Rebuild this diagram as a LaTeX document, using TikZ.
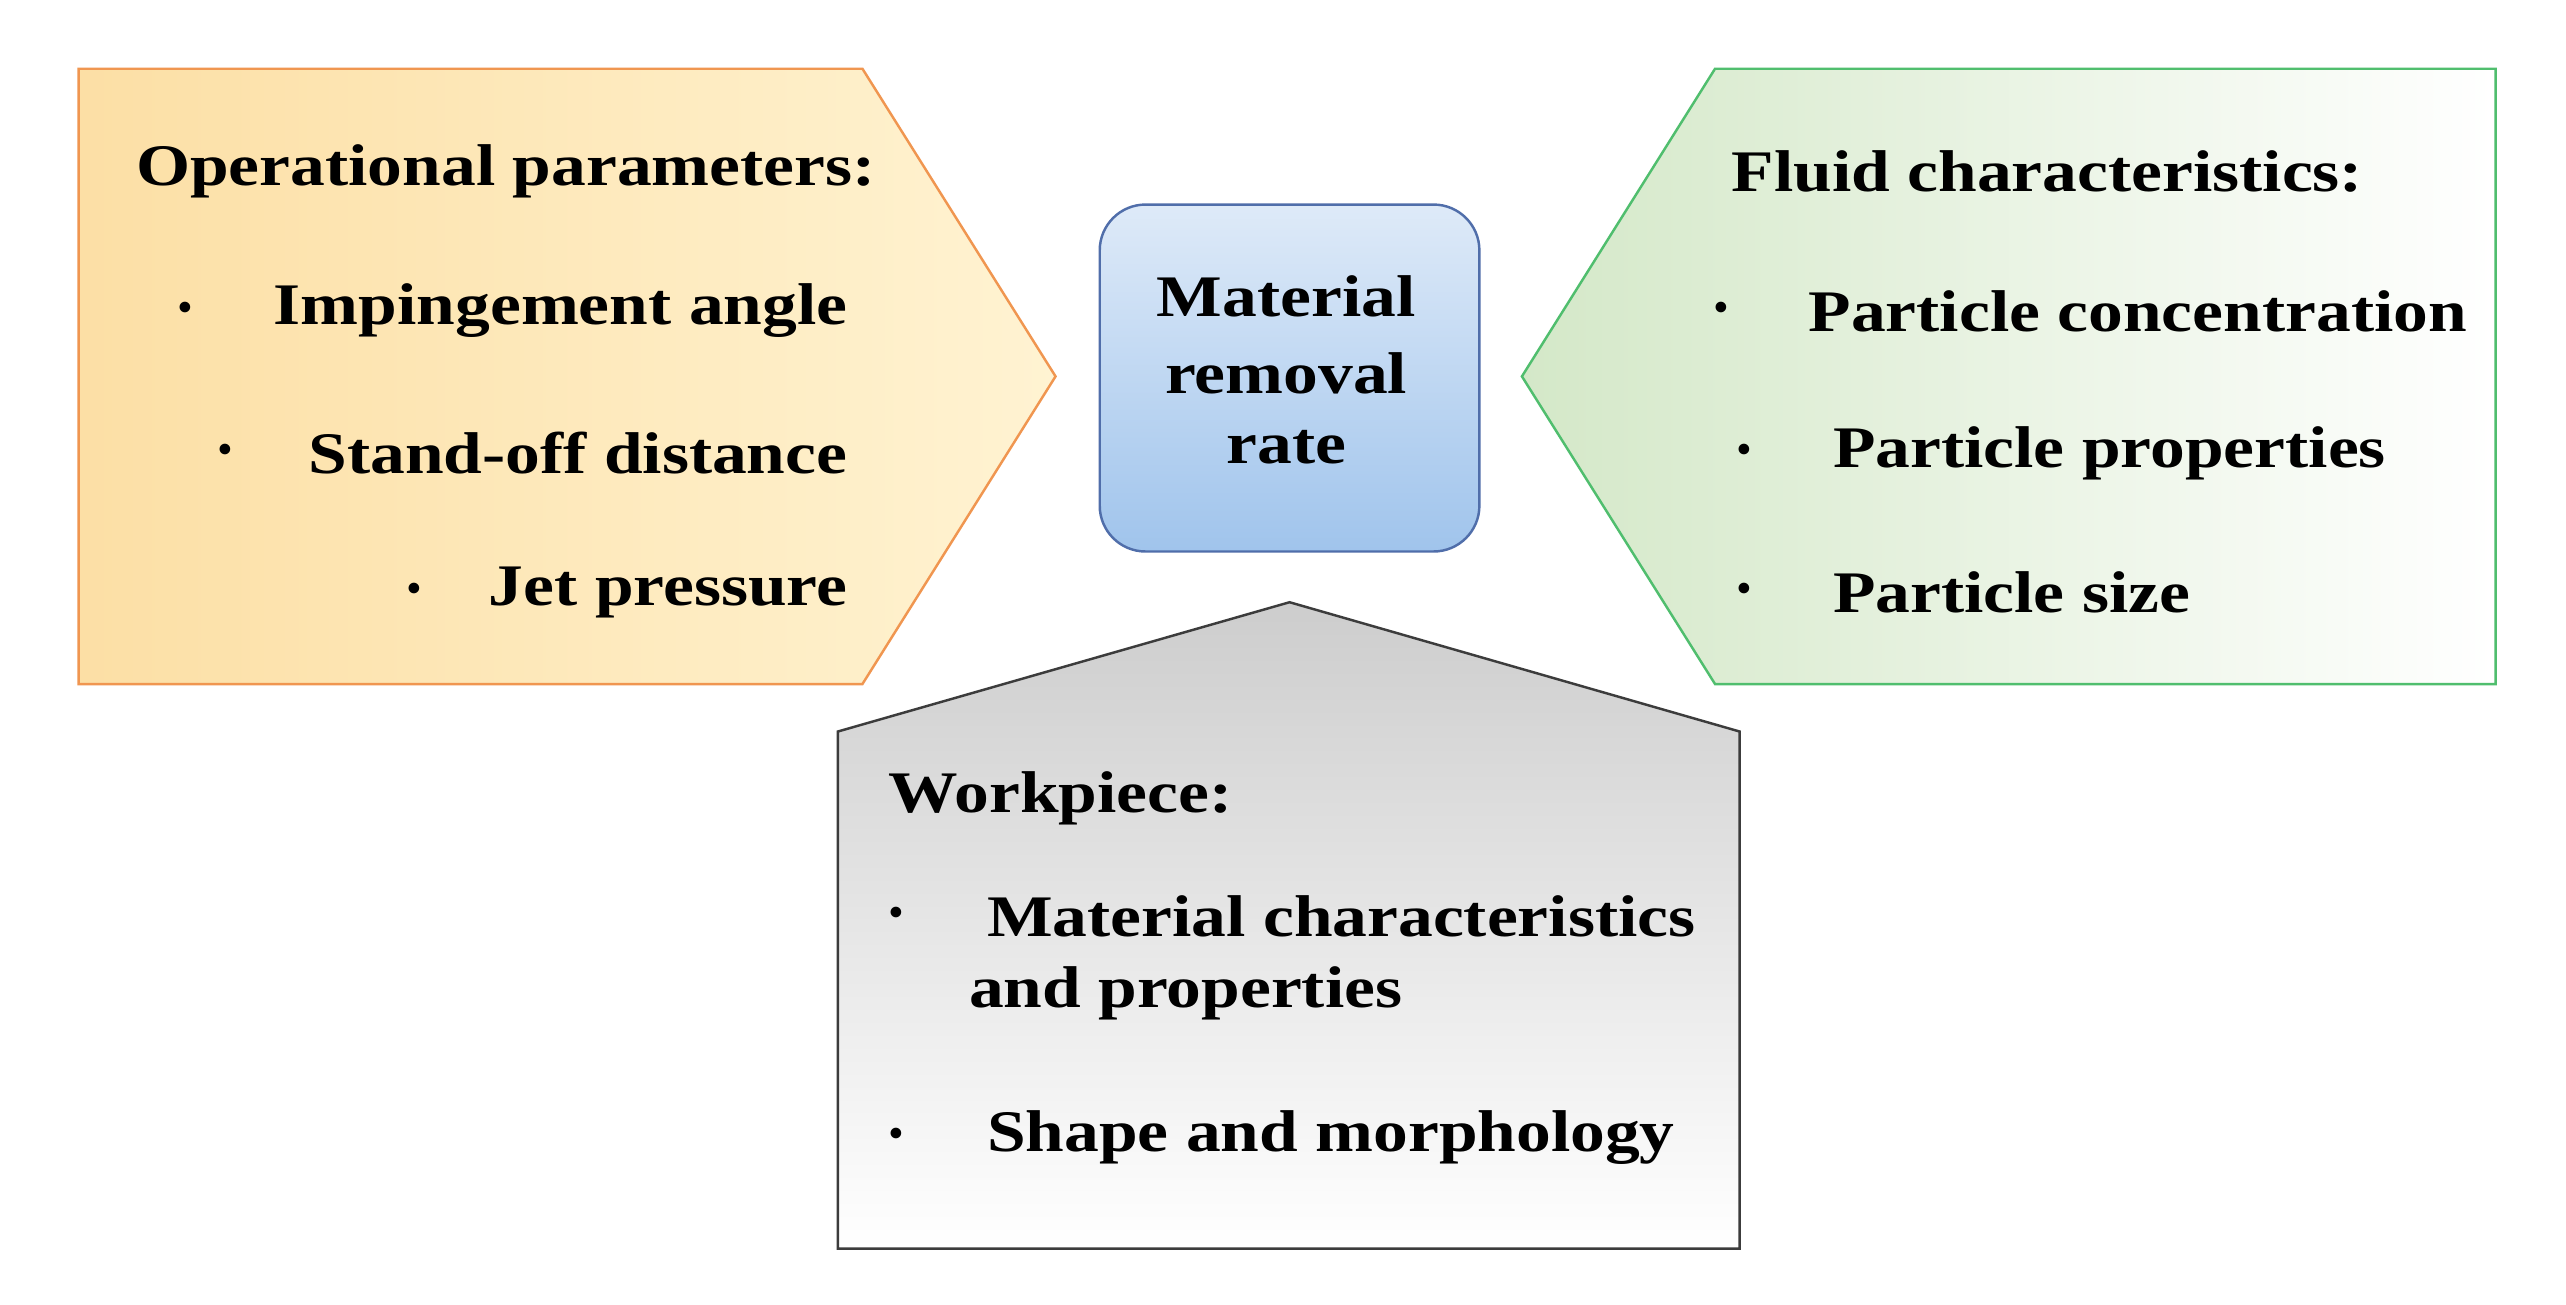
\documentclass[tikz,border=0pt]{standalone}
\usepackage{fontspec}
\setmainfont{Liberation Serif}
\newcommand{\widetxt}[1]{\scalebox{1.18}[1]{#1}}
\begin{document}
\begin{tikzpicture}[x=1pt,y=-1pt,
  t/.style={font=\bfseries\fontsize{36}{42}\selectfont,inner sep=0pt},
  b/.style={font=\bfseries\fontsize{24}{28}\selectfont,inner sep=0pt}]
\useasboundingbox (0,0) rectangle (1568,797);
\fill[white] (0,0) rectangle (1568,797);
\draw[draw={rgb,255:red,240;green,150;blue,80},line width=1.5pt,left color={rgb,255:red,252;green,223;blue,165},right color={rgb,255:red,255;green,243;blue,210}]
 (48,42) -- (527,42) -- (645,230) -- (527,418) -- (48,418) -- cycle;
\draw[draw={rgb,255:red,80;green,190;blue,110},line width=1.5pt,left color={rgb,255:red,212;green,232;blue,200},right color=white]
 (1048,42) -- (1525,42) -- (1525,418) -- (1048,418) -- (930,230) -- cycle;
\draw[draw={rgb,255:red,80;green,110;blue,170},line width=1.5pt,top color={rgb,255:red,222;green,234;blue,248},bottom color={rgb,255:red,160;green,196;blue,236},rounded corners=28pt]
 (672,125) rectangle (904,337);
\draw[draw={rgb,255:red,60;green,60;blue,60},line width=1.5pt,top color={rgb,255:red,205;green,205;blue,205},bottom color=white]
 (512,447) -- (788,368) -- (1063,447) -- (1063,763) -- (512,763) -- cycle;
% left
\node[t,anchor=west] (op) at (83,105) {\widetxt{Operational parameters:}};
\node[b] (b1) at (113,190) {\textbullet};
\node[t,anchor=east] (l1) at (518,190) {\widetxt{Impingement angle}};
\node[b] (b2) at (138,277) {\textbullet};
\node[t,anchor=east] (l2) at (518,277) {\widetxt{Stand-off distance}};
\node[b] (b3) at (253,362) {\textbullet};
\node[t,anchor=east] (l3) at (518,362) {\widetxt{Jet pressure}};
% right
\node[t,anchor=west] (fc) at (1058,105) {\widetxt{Fluid characteristics:}};
\node[b] (r1b) at (1052,190) {\textbullet};
\node[t,anchor=west] (r1) at (1105,190) {\widetxt{Particle concentration}};
\node[b] (r2b) at (1066,277) {\textbullet};
\node[t,anchor=west] (r2) at (1120,277) {\widetxt{Particle properties}};
\node[b] (r3b) at (1066,362) {\textbullet};
\node[t,anchor=west] (r3) at (1120,362) {\widetxt{Particle size}};
% center
\node[t] (mrr1) at (786,181) {\widetxt{Material}};
\node[t] (mrr2) at (786,228) {\widetxt{removal}};
\node[t] (mrr3) at (786,273) {\widetxt{rate}};
% bottom
\node[t,anchor=west] (wp) at (543,488) {\widetxt{Workpiece:}};
\node[b] (w1b) at (548,560) {\textbullet};
\node[t,anchor=west] (w1) at (603,560) {\widetxt{Material characteristics}};
\node[t,anchor=west] (w1c) at (592,607) {\widetxt{and properties}};
\node[b] (w2b) at (548,695) {\textbullet};
\node[t,anchor=west] (w2) at (603,695) {\widetxt{Shape and morphology}};
\end{tikzpicture}
\end{document}
